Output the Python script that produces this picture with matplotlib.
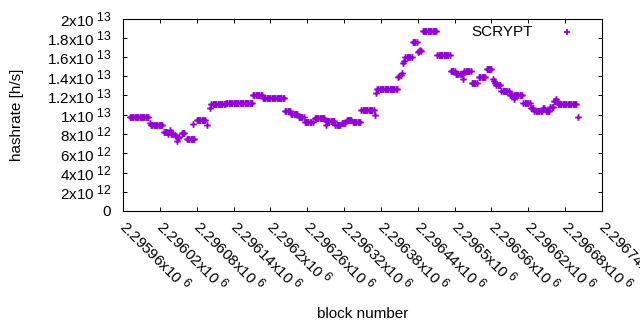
import matplotlib
matplotlib.use("Agg")
import matplotlib.pyplot as plt
import matplotlib._mathtext as mathtext_internals
import numpy as np

plt.rcParams['font.family'] = ['Liberation Sans', 'DejaVu Sans']
plt.rcParams['font.size'] = 11
plt.rcParams['mathtext.fontset'] = 'custom'
plt.rcParams['mathtext.rm'] = 'Liberation Sans'
plt.rcParams['mathtext.it'] = 'Liberation Sans:italic'
# gnuplot draws exponents at ~80% size, a bit bigger than mathtext's default
if hasattr(mathtext_internals, 'SHRINK_FACTOR'):
    mathtext_internals.SHRINK_FACTOR = 0.8

FIRST_BLOCK = 2295960

# block numbers (as offset from FIRST_BLOCK) and hashrate in units of 1e12 h/s,
# read off the picture
block_offsets = [
    11, 13, 15, 17, 19, 21, 23, 25, 27, 29, 31, 33, 35, 37, 39, 41,
    44, 46, 48, 50, 52, 54, 56, 58, 60, 62, 64,
    66, 68, 70, 72,
    74, 76, 78, 80, 82, 84,
    86, 88, 90, 92,
    96, 98, 100,
    104, 106, 108, 110, 112, 114, 116,
    114, 120, 122, 124, 126, 128, 130, 132, 134, 137,
    142, 144, 146, 148, 150, 152, 154, 156, 158, 160, 162, 164, 166,
    168, 170, 172, 174, 176, 178, 180, 182, 184, 186, 188, 190, 192, 194, 196, 198, 200, 202, 204, 206, 208, 210,
    212, 214, 216, 218, 220, 222, 224, 226,
    228, 230, 232, 234, 236, 238, 240, 242, 244, 246, 248, 250, 252, 254, 256, 258, 260, 262,
    264, 266, 268, 270, 272,
    274, 276, 278, 280, 282, 284,
    286, 288, 290, 292, 294,
    296, 298, 300, 302, 304, 306, 310,
    312, 314, 316, 318, 320, 322, 324, 326, 328,
    330, 331, 332, 334, 336, 338, 340, 342, 344,
    346, 348, 350, 352, 354,
    356, 358, 360, 362,
    364, 366, 368, 370, 372,
    374, 376, 378, 380, 382, 384, 386,
    388, 390, 392, 394, 396, 398, 400, 402, 404, 406, 408, 410,
    412, 414, 416, 418, 420, 422, 424, 426, 428, 430, 432, 434, 436, 438, 440, 442, 444, 446,
    448, 450, 452, 454, 456, 458,
    460, 462, 464, 466, 468, 470, 472, 474, 476, 478,
    480, 482, 484, 486,
    488, 490, 492, 494, 496, 498, 500, 502, 504, 506, 508, 510,
    512, 514, 516, 518, 520, 522, 524, 526, 528, 530, 532,
    534, 536, 538, 540, 542, 544, 546, 548, 550, 552, 554, 553,
    556, 558, 560, 562, 564, 566,
    568, 570, 572, 574, 576,
    580, 582, 584, 586, 588, 590,
    592, 594, 596, 598, 600,
    602, 604, 606, 608, 610, 612, 614,
    616, 618, 620, 622, 624, 626, 628,
    630, 632, 634, 636, 638, 640, 642, 644, 646, 648, 650, 637,
    652, 654, 656, 658, 660, 662,
    664, 666, 668, 670, 672, 674, 676, 678, 680, 682,
    684, 686, 688, 690, 692, 694,
    696, 698, 700, 702, 704, 706, 705,
    708, 710, 712, 714, 716, 718, 720, 722, 724, 726, 728, 730, 732, 734, 736, 738,
    741,
]
hashrate_e12 = [
    9.8, 9.8, 9.8, 9.8, 9.8, 9.8, 9.8, 9.8, 9.8, 9.8, 9.8, 9.8, 9.8, 9.8, 9.8, 9.8,
    9.1, 8.9, 8.9, 8.9, 8.9, 8.9, 8.9, 8.9, 8.9, 8.9, 8.9,
    8.25, 8.25, 8.25, 8.25,
    8.0, 8.4, 8.0, 8.0, 8.0, 7.9,
    7.8, 7.3, 7.6, 7.7,
    8.1, 8.1, 8.1,
    7.5, 7.5, 7.5, 7.5, 7.5, 7.5, 7.5,
    9.0, 9.5, 9.5, 9.5, 9.5, 9.5, 9.5, 9.5, 9.5, 8.9,
    10.7, 11.1, 11.1, 11.1, 11.1, 11.1, 11.1, 11.1, 11.1, 11.1, 11.1, 11.1, 11.1,
    11.2, 11.2, 11.2, 11.2, 11.2, 11.2, 11.2, 11.2, 11.2, 11.2, 11.2, 11.2, 11.2, 11.2, 11.2, 11.2, 11.2, 11.2, 11.2, 11.2, 11.2, 11.2,
    12.05, 12.05, 12.05, 12.05, 12.05, 12.05, 12.05, 12.05,
    11.7, 11.7, 11.7, 11.7, 11.7, 11.7, 11.7, 11.7, 11.7, 11.7, 11.7, 11.7, 11.7, 11.7, 11.7, 11.7, 11.7, 11.7,
    10.4, 10.4, 10.4, 10.4, 10.4,
    10.07, 10.07, 10.07, 10.07, 10.07, 10.07,
    9.76, 9.76, 9.76, 9.76, 9.76,
    9.27, 9.27, 9.27, 9.27, 9.27, 9.27, 9.2,
    9.65, 9.65, 9.65, 9.65, 9.65, 9.65, 9.65, 9.65, 9.65,
    9.37, 8.96, 9.37, 9.37, 9.37, 9.37, 9.37, 9.37, 9.37,
    8.9, 8.9, 8.9, 8.9, 8.9,
    9.13, 9.13, 9.13, 9.13,
    9.48, 9.48, 9.48, 9.48, 9.48,
    9.27, 9.27, 9.27, 9.27, 9.27, 9.27, 9.27,
    10.52, 10.52, 10.52, 10.52, 10.52, 10.52, 10.52, 10.52, 10.52, 10.52, 10.52, 9.93,
    12.3, 12.64, 12.64, 12.64, 12.64, 12.64, 12.64, 12.64, 12.64, 12.64, 12.64, 12.64, 12.64, 12.64, 12.64, 12.64, 12.64, 12.64,
    13.9, 14.0, 14.1, 14.3, 15.4, 15.55,
    16.0, 16.0, 16.0, 16.0, 16.0, 16.0, 17.55, 17.55, 17.55, 17.55,
    16.55, 16.6, 16.7, 16.6,
    18.68, 18.68, 18.68, 18.68, 18.68, 18.68, 18.68, 18.68, 18.68, 18.68, 18.68, 18.68,
    16.25, 16.25, 16.25, 16.25, 16.25, 16.25, 16.25, 16.25, 16.25, 16.25, 16.25,
    14.56, 14.56, 14.56, 14.56, 14.25, 14.25, 14.25, 14.25, 14.25, 14.25, 14.25, 13.7,
    14.55, 14.55, 14.55, 14.55, 14.55, 14.55,
    13.3, 13.3, 13.3, 13.3, 13.3,
    13.9, 13.9, 13.9, 13.9, 13.9, 13.9,
    14.74, 14.74, 14.74, 14.74, 14.74,
    13.7, 13.47, 13.3, 13.1, 13.1, 13.1, 13.1,
    12.47, 12.47, 12.47, 12.47, 12.47, 12.47, 12.47,
    12.08, 12.08, 12.08, 12.08, 12.08, 12.08, 12.08, 12.08, 12.08, 12.08, 12.08, 11.6,
    11.2, 11.2, 11.2, 11.2, 11.2, 11.2,
    10.65, 10.65, 10.65, 10.43, 10.43, 10.43, 10.43, 10.43, 10.43, 10.43,
    10.7, 10.7, 10.4, 10.4, 10.4, 10.4,
    10.8, 10.8, 10.8, 11.4, 11.4, 11.4, 11.6,
    11.1, 11.1, 11.1, 11.1, 11.1, 11.1, 11.1, 11.1, 11.1, 11.1, 11.1, 11.1, 11.1, 11.1, 11.1, 11.1,
    9.76,
]

x_ticks = [2295960, 2296020, 2296080, 2296140, 2296200, 2296260, 2296320,
           2296380, 2296440, 2296500, 2296560, 2296620, 2296680, 2296740]
x_tick_mantissa = ['2.29596', '2.29602', '2.29608', '2.29614', '2.2962', '2.29626',
                   '2.29632', '2.29638', '2.29644', '2.2965', '2.29656', '2.29662',
                   '2.29668', '2.29674']
y_ticks = [0, 2e12, 4e12, 6e12, 8e12, 1e13, 1.2e13, 1.4e13, 1.6e13, 1.8e13, 2e13]
y_tick_text = [('0', None), ('2', 12), ('4', 12), ('6', 12), ('8', 12), ('1', 13),
               ('1.2', 13), ('1.4', 13), ('1.6', 13), ('1.8', 13), ('2', 13)]


def sci_label(mant, exp):
    if exp is None:
        return mant
    return r'$\mathregular{%sx10^{\ %d}}$' % (mant, exp)


blocks = FIRST_BLOCK + np.array(block_offsets)
hashrate = np.array(hashrate_e12) * 1e12

fig = plt.figure(figsize=(6.4, 3.3), dpi=100)
ax = fig.add_axes([123 / 640, 1 - 211 / 330, 479 / 640, 192.5 / 330])

# scatter (not plot) so marker positions are not rounded to whole pixels,
# letting the dense crosses merge into solid blocks like gnuplot's
pts = ax.scatter(blocks, hashrate, marker='+', color='#9400d3', s=4.8 ** 2,
                 linewidths=1.3, label='SCRYPT')
pts.set_snap(False)

ax.set_xlim(x_ticks[0], x_ticks[-1])
ax.set_ylim(0, 2e13)

ax.set_xticks(x_ticks)
ax.set_xticklabels([sci_label(m, 6) for m in x_tick_mantissa], rotation=-45,
                   ha='left', va='center', rotation_mode='anchor')
ax.set_yticks(y_ticks)
ax.set_yticklabels([sci_label(m, e) for m, e in y_tick_text])

ax.tick_params(direction='in', top=True, right=True, length=3, width=0.7, colors='black')
ax.tick_params(axis='x', pad=9)
ax.tick_params(axis='y', pad=8.5)
for s in ax.spines.values():
    s.set_linewidth(0.8)

ax.set_xlabel('block number')
ax.xaxis.set_label_coords(0.5, -0.50)
ax.set_ylabel('hashrate [h/s]')
ax.yaxis.set_label_coords(-0.207, 0.5)

ax.legend(loc='center right', bbox_to_anchor=(589 / 640, 1 - 32 / 330),
          bbox_transform=fig.transFigure, frameon=False, markerfirst=False,
          scatterpoints=1, handlelength=2.9, handletextpad=0.8, borderpad=0,
          borderaxespad=0)

fig.savefig('out.png', dpi=100)
